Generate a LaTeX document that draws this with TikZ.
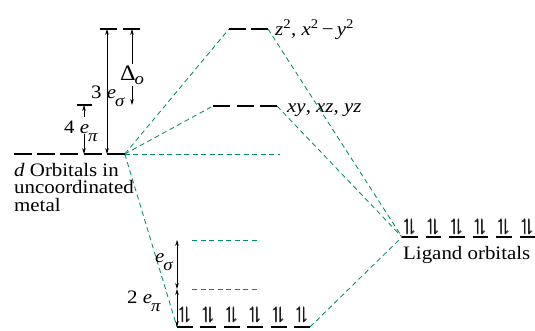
\documentclass[tikz,border=0pt]{standalone}
\usepackage{amsmath}
\usepackage{amssymb}
\usepackage{fontspec}
\setmainfont{Liberation Serif}[FakeStretch=1.1]
\usetikzlibrary{arrows.meta}
\definecolor{corrgreen}{RGB}{0,140,110}
\newcommand{\lowsub}[2][8pt]{\kern-1pt\raisebox{-#1}{\fontsize{17}{17}\selectfont\textit{#2}}}
\newcommand{\ud}{$\pmb{\upharpoonleft}\!\pmb{\downharpoonright}$}
\tikzset{
  orb/.style={line width=2.6pt},
  corr/.style={corrgreen, line width=0.85pt, dash pattern=on 5pt off 3.5pt},
  gap/.style={{Stealth[length=6pt,width=3.6pt]}-{Stealth[length=6pt,width=3.6pt]}, line width=0.7pt},
  tip/.style={-{Stealth[length=6pt,width=3.6pt]}, line width=0.7pt},
  lbl/.style={inner sep=0pt, font=\fontsize{19}{17.5}\selectfont},
  pair/.style={inner sep=0pt, font=\fontsize{17}{17}\selectfont}
}
\begin{document}
\begin{tikzpicture}[x=1pt,y=-1pt]
\useasboundingbox (0,0) rectangle (535,330);
 \coordinate (dL) at (14,154);
 \coordinate (dR) at (124.8,154);
 \coordinate (tL) at (100,29);
 \coordinate (tR) at (140,29);
 \coordinate (pL) at (77,105);
 \coordinate (pR) at (92,105);
 \coordinate (egL) at (229,29);
 \coordinate (egR) at (268,29);
 \coordinate (tgL) at (213,106);
 \coordinate (tgR) at (277,106);
 \coordinate (bL) at (177,327);
 \coordinate (bR) at (310,327);
 \coordinate (ligL) at (402,237);
 \coordinate (ligR) at (535,237);
 \coordinate (nbE) at (280,154);
 \coordinate (sgL) at (192,240);
 \coordinate (sgR) at (260,240);
 \coordinate (spL) at (192,289);
 \coordinate (spR) at (260,289);
 \draw[corr] (dR) -- (egL);
 \draw[corr] (dR) -- (tgL);
 \draw[corr] (dR) -- (nbE);
 \draw[corr] (dR) -- (bL);
 \draw[corr] (egR) -- (ligL);
 \draw[corr] (tgR) -- (ligL);
 \draw[corr] (bR) -- (ligL);
 \draw[corr] (sgL) -- (sgR);
 \draw[corr] (spL) -- (spR);
 \draw[orb, dash pattern=on 18pt off 5.2pt] (dL) -- (dR);
 \draw[orb, dash pattern=on 17pt off 6pt] (tL) -- (tR);
 \draw[orb] (pL) -- (pR);
 \draw[orb, dash pattern=on 17pt off 5pt] (egL) -- (egR);
 \draw[orb, dash pattern=on 17pt off 6.5pt] (tgL) -- (tgR);
 \draw[orb, dash pattern=on 16pt off 7.4pt] (bL) -- (bR);
 \draw[orb, dash pattern=on 15.5pt off 8pt] (ligL) -- (ligR);
 \foreach \i in {0,...,5} {
  \node[pair] (bp\i) at ({185+23.4*\i},315) {\ud};
  \node[pair] (lp\i) at ({409.75+23.5*\i},227) {\ud};
 }
 \coordinate (s3top) at (107,29);
 \coordinate (s3bot) at (107,154);
 \draw[gap] (s3bot) -- (s3top);
 \node[lbl, anchor=base west] (threesig) at (91,98) {3 \textit{e}\lowsub{σ}};
 \coordinate (dtop) at (132,29);
 \coordinate (dbot) at (132,105);
 \node[lbl, fill=white, inner sep=1.5pt] (delta) at (132,75)
   {{\fontsize{22}{22}\selectfont Δ}\lowsub[4pt]{o}};
 \draw[tip] (delta.north -| dtop) -- (dtop);
 \draw[tip] (delta.south -| dtop) -- (dbot);
 \coordinate (p4top) at (84,105);
 \coordinate (p4bot) at (84,154);
 \coordinate (p4a) at (84,117);
 \coordinate (p4b) at (84,134);
 \draw[tip] (p4a) -- (p4top);
 \draw[tip] (p4b) -- (p4bot);
 \node[lbl, anchor=base west] (fourpi) at (64,133) {4 \textit{e}\lowsub{π}};
 \coordinate (es1) at (177,240);
 \coordinate (es2) at (177,289);
 \draw[gap] (es1) -- (es2);
 \draw[gap] (es2) -- (bL);
 \node[lbl, anchor=base west] (esig) at (155,262) {\textit{e}\lowsub{σ}};
 \node[lbl, anchor=base west] (twopi) at (127,303) {2 \textit{e}\lowsub{π}};
 \node[lbl, anchor=base west] (eglbl) at (275,35)
   {\textit{z}\textsuperscript{2}, \textit{x}\textsuperscript{2}\,−\,\textit{y}\textsuperscript{2}};
 \node[lbl, anchor=base west] (tglbl) at (287,112) {\textit{xy}, \textit{xz}, \textit{yz}};
 \node[lbl, anchor=base west] (liglbl) at (403,259) {Ligand orbitals};
 \node[lbl, anchor=north west, align=left] (dlbl) at (14,163)
   {\textit{d} Orbitals in\\uncoordinated\\metal};
\end{tikzpicture}
\end{document}
